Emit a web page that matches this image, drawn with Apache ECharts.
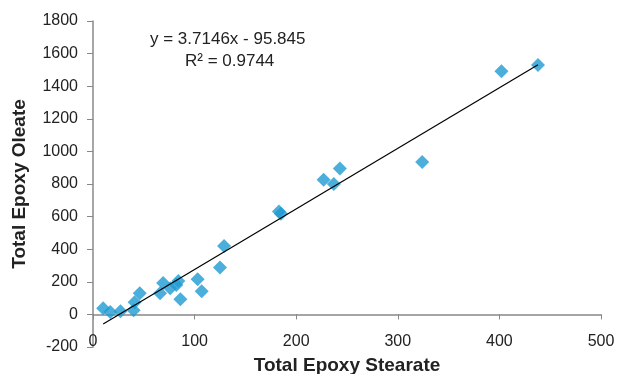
<!DOCTYPE html>
<html>
<head>
<meta charset="utf-8">
<script src="https://cdn.jsdelivr.net/npm/echarts@6/dist/echarts.min.js"></script>
<style>
html, body { margin: 0; padding: 0; background: #fff; }
#main { width: 617px; height: 374px; }
</style>
</head>
<body>
<div id="main"></div>
<script>
// epoxy stearate (x) vs epoxy oleate (y)
var stearate = [10, 17, 27, 40, 41, 46, 66, 69, 76, 82, 84, 86, 103, 107, 125, 129, 183, 185, 227, 237, 243, 324, 402, 438];
var oleate = [38, 15, 20, 25, 75, 130, 130, 192, 160, 180, 205, 93, 215, 142, 287, 420, 632, 617, 826, 800, 895, 935, 1492, 1530];
// linear trend from the label
var slope = 3.7146;
var intercept = -95.845;
var eqText = 'y = 3.7146x - 95.845';
var r2Text = 'R² = 0.9744';

var points = stearate.map(function (x, i) { return [x, oleate[i]]; });
var xMin = Math.min.apply(null, stearate);
var xMax = Math.max.apply(null, stearate);
var trend = [[xMin, slope * xMin + intercept], [xMax, slope * xMax + intercept]];

var font = 'Liberation Sans';
var myChart = echarts.init(document.getElementById('main'));
var option = {
    animation: false,
    grid: { left: 93, right: 16, top: 21, bottom: 27, outerBoundsMode: 'none', containLabel: false },
    xAxis: {
        type: 'value',
        min: 0, max: 500, interval: 100,
        name: 'Total Epoxy Stearate',
        nameLocation: 'middle',
        nameGap: 9,
        nameMoveOverlap: false,
        nameTextStyle: { fontFamily: font, fontSize: 19, fontWeight: 'bold', color: '#222' },
        axisLine: { onZero: true, lineStyle: { color: '#888', width: 1.5 } },
        axisTick: { show: true, inside: false, length: 5, lineStyle: { color: '#888' } },
        axisLabel: { margin: -13, fontFamily: font, fontSize: 16, color: '#222' },
        splitLine: { show: false }
    },
    yAxis: {
        type: 'value',
        min: -200, max: 1800, interval: 200,
        name: 'Total Epoxy Oleate',
        nameLocation: 'middle',
        nameGap: 64,
        nameMoveOverlap: false,
        nameTextStyle: { fontFamily: font, fontSize: 19, fontWeight: 'bold', color: '#222' },
        axisLine: { show: true, onZero: false, lineStyle: { color: '#888', width: 1.5 } },
        axisTick: { show: true, inside: false, length: 6, lineStyle: { color: '#888' } },
        axisLabel: { margin: 15, fontFamily: font, fontSize: 16, color: '#222', formatter: function (v) { return String(v); } },
        splitLine: { show: false }
    },
    graphic: [
        { type: 'text', left: 150, top: 31, style: { text: eqText, fontFamily: font, fontSize: 17, fill: '#222' } },
        { type: 'text', left: 185, top: 53, style: { text: r2Text, fontFamily: font, fontSize: 17, fill: '#222' } }
    ],
    series: [
        {
            name: 'data',
            type: 'scatter',
            symbol: 'diamond',
            symbolSize: 14,
            itemStyle: { color: '#1f9bd2' },
            data: points,
            z: 2
        },
        {
            name: 'trend',
            type: 'line',
            showSymbol: false,
            symbol: 'none',
            lineStyle: { color: '#000', width: 1.2 },
            data: trend,
            z: 3
        }
    ]
};
myChart.setOption(option);
</script>
</body>
</html>
